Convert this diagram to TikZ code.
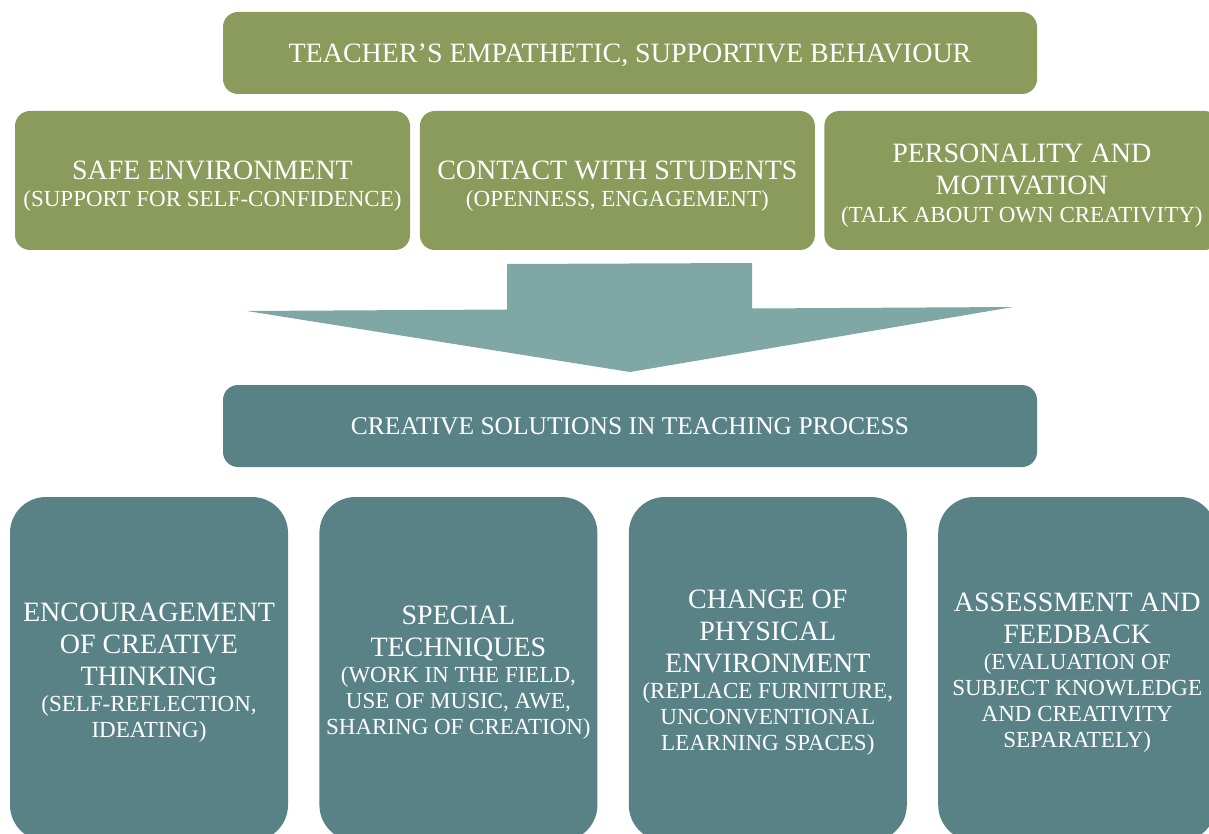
\documentclass[tikz,border=0pt]{standalone}
\usepackage{fontspec}
\setmainfont{Liberation Serif}
\usetikzlibrary{positioning}

\definecolor{olivebox}{RGB}{138,155,92}
\definecolor{tealbox}{RGB}{89,130,135}
\definecolor{tealarrow}{RGB}{127,167,166}

\newcommand{\boxhead}{\fontsize{28}{32}\selectfont}
\newcommand{\boxnote}{\fontsize{23}{26}\selectfont}
% taller first line, pushes the text block a bit lower in its box
\newcommand{\capstrut}[1]{\rule{0pt}{#1}}

\begin{document}
\begin{tikzpicture}[x=1pt,y=-1pt]
    \tikzstyle{every node}=[rectangle,rounded corners=15,inner sep=0,text=white,align=center,font=\boxhead]
    \tikzstyle{banner}=[minimum width=814,minimum height=82]
    \tikzstyle{behaviour}=[fill=olivebox,minimum width=395,minimum height=139]
    \tikzstyle{solution}=[fill=tealbox,rounded corners=36,minimum width=278,minimum height=344]

    \useasboundingbox (0,0) rectangle (1209,834);
    \clip (0,0) rectangle (1209,834);
    {
        % teacher's side
        \node[banner,fill=olivebox] (teacher) at (630,53)
            {\capstrut{23pt}TEACHER'S EMPATHETIC, SUPPORTIVE BEHAVIOUR};

        \node[behaviour] (safe) at (212.5,180.5)
            {\capstrut{29pt}SAFE ENVIRONMENT\\[-5pt]{\boxnote (SUPPORT FOR SELF-CONFIDENCE)}};
        \node[behaviour,right=9.5pt of safe] (contact)
            {\capstrut{29pt}CONTACT WITH STUDENTS\\[-5pt]{\boxnote (OPENNESS, ENGAGEMENT)}};
        \node[behaviour,right=9pt of contact] (personality)
            {\capstrut{29pt}PERSONALITY AND\\MOTIVATION\\[-4pt]{\boxnote (TALK ABOUT OWN CREATIVITY)}};

        % big arrow down
        \fill[tealarrow] (507,264) -- (752,263) -- (752,308.5) -- (1013,307)
            -- (630,372) -- (247,311) -- (507,309.5) -- cycle;

        % solutions side
        \node[banner,fill=tealbox,font=\fontsize{25.5}{30}\selectfont] (creative) at (630,426)
            {CREATIVE SOLUTIONS IN TEACHING PROCESS};

        \node[solution] (encourage) at (149,669)
            {\capstrut{25pt}ENCOURAGEMENT\\OF CREATIVE\\THINKING\\[-6pt]{\boxnote (SELF-REFLECTION,}\\[-6pt]{\boxnote IDEATING)}};
        \node[solution,right=31pt of encourage] (techniques)
            {\capstrut{25pt}SPECIAL\\TECHNIQUES\\[-6pt]{\boxnote (WORK IN THE FIELD,}\\[-6pt]{\boxnote USE OF MUSIC, AWE,}\\[-6pt]{\boxnote SHARING OF CREATION)}};
        \node[solution,right=31pt of techniques] (physical)
            {\capstrut{25pt}CHANGE OF\\PHYSICAL\\ENVIRONMENT\\[-6pt]{\boxnote (REPLACE FURNITURE,}\\[-6pt]{\boxnote UNCONVENTIONAL}\\[-6pt]{\boxnote LEARNING SPACES)}};
        \node[solution,right=31pt of physical] (assessment)
            {\capstrut{25pt}ASSESSMENT AND\\FEEDBACK\\[-6pt]{\boxnote (EVALUATION OF}\\[-6pt]{\boxnote SUBJECT KNOWLEDGE}\\[-6pt]{\boxnote AND CREATIVITY}\\[-6pt]{\boxnote SEPARATELY)}};
    }
\end{tikzpicture}
\end{document}
